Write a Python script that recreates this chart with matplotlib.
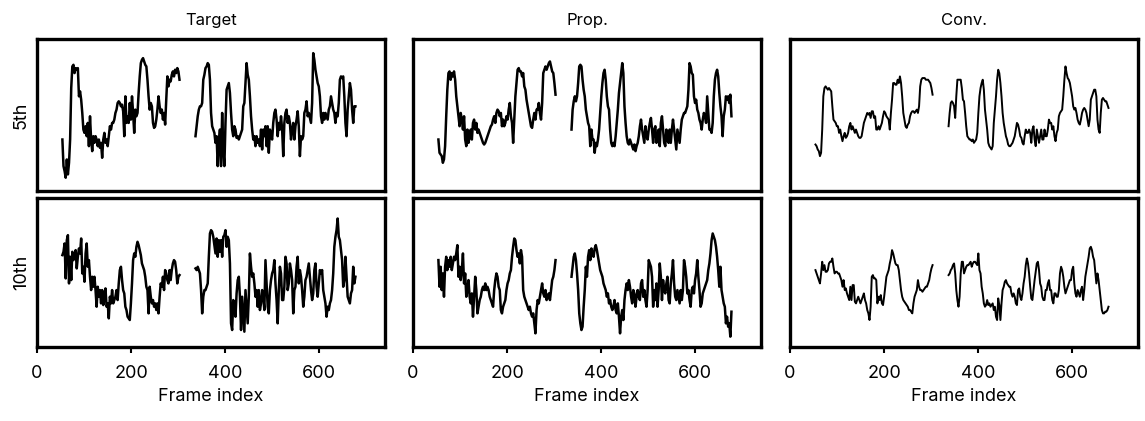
import numpy as np
import matplotlib
matplotlib.use("Agg")
import matplotlib.pyplot as plt

plt.rcParams["font.family"] = ["Inter", "Noto Sans CJK JP", "DejaVu Sans"]

# frame range of the two recorded segments (gap in between)
seg_a = (54, 303)
seg_b = (337, 677)

col_titles = ["Target", "Prop.", "Conv."]
row_labels = ["5th", "10th"]
xticks = [0, 200, 400, 600]

# ===== DATA (arbitrary units) =====
tgt5_a = [34, 18, 15, 11, 22, 13, 20, 34, 65, 78, 79, 74, 77, 76, 77, 60, 63, 58, 50, 40, 38, 42, 36, 44,
          30, 48, 34, 27, 36, 32, 36, 34, 30, 34, 29, 32, 23, 34, 38, 32, 34, 30, 36, 42, 40, 44, 44, 46,
          50, 52, 56, 57, 56, 54, 55, 51, 36, 60, 44, 48, 44, 56, 46, 60, 50, 38, 52, 48, 50, 62, 72, 80,
          82, 83, 81, 79, 78, 70, 60, 52, 56, 54, 44, 41, 42, 46, 52, 60, 54, 50, 52, 46, 50, 43, 58, 72,
          66, 70, 69, 73, 75, 72, 76, 74, 77, 75, 70]
tgt5_b = [36, 42, 48, 52, 54, 54, 56, 70, 73, 77, 78, 80, 79, 70, 50, 42, 40, 38, 32, 36, 18, 32, 40, 18,
          50, 28, 18, 44, 64, 66, 68, 62, 50, 40, 36, 42, 40, 35, 36, 34, 36, 38, 40, 54, 56, 68, 80, 73,
          70, 60, 48, 40, 34, 36, 30, 36, 32, 34, 30, 40, 28, 40, 36, 42, 30, 42, 26, 40, 36, 34, 44, 50,
          52, 46, 36, 44, 40, 48, 40, 24, 44, 50, 52, 44, 48, 44, 34, 40, 44, 34, 42, 46, 51, 42, 24, 36,
          34, 36, 50, 52, 57, 48, 50, 47, 44, 56, 86, 82, 76, 72, 68, 66, 60, 48, 44, 50, 46, 50, 48, 46,
          52, 54, 60, 56, 52, 50, 44, 50, 48, 56, 70, 72, 71, 72, 60, 44, 36, 52, 60, 68, 64, 52, 44, 54, 54]

tgt10_a = [61, 63, 68, 47, 70, 73, 44, 60, 46, 63, 58, 60, 64, 53, 60, 65, 62, 71, 50, 54, 45, 62, 68, 54,
           58, 48, 40, 48, 42, 48, 40, 30, 42, 36, 40, 32, 40, 31, 36, 41, 30, 32, 23, 36, 32, 40, 32, 34,
           36, 40, 34, 44, 52, 54, 46, 40, 38, 30, 28, 24, 23, 22, 32, 44, 58, 62, 60, 66, 69, 67, 64, 61,
           56, 54, 52, 48, 42, 40, 26, 42, 36, 32, 34, 30, 32, 28, 32, 26, 36, 44, 42, 48, 40, 52, 50, 46,
           44, 52, 46, 52, 56, 58, 57, 52, 44, 48, 49]
tgt10_b = [53, 52, 54, 52, 50, 40, 26, 36, 40, 40, 42, 44, 60, 74, 76, 75, 72, 67, 62, 71, 60, 70, 63, 70,
           60, 72, 73, 76, 66, 72, 70, 56, 20, 16, 34, 32, 24, 38, 46, 48, 36, 16, 36, 26, 15, 40, 30, 20,
           36, 62, 54, 48, 50, 44, 36, 40, 30, 40, 28, 32, 40, 36, 28, 58, 44, 30, 26, 40, 46, 50, 52, 58,
           44, 34, 20, 40, 54, 50, 34, 34, 42, 60, 56, 40, 44, 56, 52, 46, 26, 40, 42, 54, 60, 44, 52, 48,
           40, 30, 36, 46, 48, 52, 56, 48, 40, 34, 38, 52, 56, 42, 36, 44, 52, 50, 52, 40, 36, 32, 24, 30,
           28, 32, 34, 40, 50, 66, 72, 76, 83, 72, 70, 64, 58, 42, 46, 60, 48, 36, 34, 32, 38, 40, 54, 44, 48]

prop5_a = [34, 26, 25, 24, 20, 22, 30, 48, 64, 74, 75, 70, 74, 72, 75, 70, 60, 54, 48, 42, 50, 46, 40, 48,
           34, 30, 40, 32, 36, 40, 34, 44, 46, 40, 44, 38, 40, 38, 36, 34, 32, 31, 32, 34, 36, 38, 40, 42,
           43, 46, 48, 44, 50, 52, 51, 48, 50, 42, 46, 42, 44, 48, 46, 52, 56, 48, 44, 32, 46, 60, 68, 76,
           77, 75, 75, 72, 74, 66, 64, 58, 54, 50, 46, 42, 41, 46, 50, 46, 52, 52, 56, 50, 46, 56, 74, 76,
           78, 76, 78, 80, 81, 78, 75, 74, 68, 61]
prop5_b = [40, 52, 57, 60, 57, 60, 68, 78, 79, 78, 70, 64, 60, 52, 48, 44, 42, 30, 40, 34, 34, 26, 32, 30,
           34, 40, 50, 60, 68, 74, 76, 70, 60, 54, 52, 40, 32, 30, 32, 30, 36, 44, 52, 62, 68, 74, 80, 74,
           54, 44, 36, 32, 31, 34, 32, 30, 28, 31, 27, 30, 32, 36, 42, 46, 40, 36, 32, 42, 36, 34, 40, 44,
           47, 40, 32, 40, 42, 32, 34, 40, 30, 44, 48, 40, 32, 30, 40, 34, 32, 40, 32, 40, 46, 40, 34, 28,
           40, 36, 32, 40, 46, 48, 50, 50, 52, 54, 64, 80, 78, 74, 73, 60, 56, 58, 52, 50, 46, 44, 40, 46,
           50, 48, 44, 60, 50, 40, 40, 38, 44, 60, 70, 74, 76, 72, 62, 54, 48, 36, 48, 52, 60, 58, 60, 56,
           61, 48]

prop10_a = [58, 42, 54, 40, 50, 36, 54, 60, 52, 58, 54, 60, 52, 56, 60, 58, 62, 67, 48, 54, 46, 52, 62, 44,
            50, 36, 40, 46, 36, 32, 38, 24, 36, 48, 40, 26, 30, 34, 36, 40, 42, 40, 44, 40, 42, 40, 36, 34,
            32, 30, 40, 46, 50, 48, 42, 40, 28, 26, 30, 32, 34, 40, 44, 46, 50, 52, 60, 66, 71, 70, 64, 60,
            62, 56, 64, 60, 40, 36, 34, 32, 30, 28, 30, 26, 24, 26, 20, 14, 28, 34, 32, 36, 40, 44, 38, 36,
            40, 34, 36, 38, 34, 40, 46, 48, 52, 58]
prop10_b = [48, 54, 60, 62, 58, 50, 40, 26, 20, 16, 18, 30, 40, 54, 48, 60, 64, 58, 65, 62, 60, 65, 67, 64,
            60, 56, 52, 50, 48, 44, 42, 40, 36, 38, 32, 34, 30, 28, 30, 34, 28, 26, 32, 24, 14, 24, 28, 22,
            34, 40, 44, 40, 46, 42, 36, 32, 40, 38, 30, 36, 40, 36, 34, 44, 46, 36, 40, 34, 30, 40, 58, 56,
            54, 48, 30, 40, 34, 44, 30, 40, 56, 48, 34, 46, 40, 38, 44, 48, 34, 32, 44, 50, 58, 44, 36, 34,
            40, 36, 32, 40, 34, 40, 58, 54, 48, 38, 40, 34, 30, 40, 42, 38, 46, 50, 58, 48, 40, 30, 32, 38,
            40, 42, 44, 46, 52, 56, 62, 70, 74, 72, 70, 66, 60, 52, 42, 54, 40, 36, 32, 30, 20, 24, 18, 20,
            12, 27]

conv5_a = [31, 30, 28, 27, 24, 26, 40, 60, 65, 66, 65, 64, 65, 64, 63, 54, 46, 45, 44, 42, 42, 38, 40, 36,
           33, 36, 38, 35, 36, 38, 42, 44, 40, 42, 40, 38, 40, 38, 36, 35, 35, 36, 40, 44, 46, 48, 50, 49,
           50, 47, 51, 51, 47, 48, 40, 40, 42, 40, 42, 44, 48, 51, 50, 48, 47, 46, 40, 50, 58, 68, 68, 67,
           67, 70, 68, 72, 68, 60, 50, 46, 42, 41, 43, 44, 48, 50, 51, 51, 50, 51, 52, 50, 54, 66, 70, 71,
           71, 71, 70, 70, 70, 69, 68, 65, 61]
conv5_b = [42, 50, 56, 57, 56, 54, 47, 60, 70, 70, 70, 70, 65, 58, 57, 50, 42, 36, 35, 34, 34, 33, 34, 32,
           33, 34, 38, 50, 60, 65, 68, 70, 64, 52, 46, 40, 32, 30, 29, 28, 30, 44, 52, 60, 70, 76, 74, 68,
           60, 50, 44, 40, 36, 34, 31, 30, 30, 31, 32, 34, 36, 40, 44, 43, 40, 36, 35, 32, 31, 36, 40, 38,
           38, 40, 38, 32, 40, 42, 34, 30, 40, 36, 32, 36, 40, 34, 34, 40, 36, 36, 40, 46, 44, 44, 40, 42,
           36, 33, 38, 40, 48, 50, 51, 52, 60, 70, 78, 74, 71, 70, 68, 64, 60, 54, 52, 53, 50, 46, 44, 43,
           46, 50, 52, 53, 52, 50, 46, 42, 46, 58, 60, 62, 64, 64, 60, 46, 40, 38, 50, 58, 59, 58, 57, 57,
           55, 53]

conv10_a = [52, 50, 48, 46, 44, 50, 57, 52, 55, 51, 51, 52, 56, 57, 57, 59, 54, 50, 51, 51, 50, 50, 48, 46,
            42, 46, 40, 41, 38, 36, 34, 42, 34, 43, 43, 33, 32, 34, 36, 34, 32, 34, 36, 38, 34, 32, 28, 26,
            22, 30, 48, 49, 47, 47, 46, 32, 36, 34, 37, 32, 31, 36, 42, 48, 50, 52, 56, 59, 64, 62, 59, 56,
            55, 55, 52, 46, 40, 36, 34, 33, 32, 31, 30, 28, 28, 27, 26, 32, 36, 38, 40, 46, 42, 40, 40, 39,
            40, 41, 42, 42, 44, 46, 50, 53, 55]
conv10_b = [49, 50, 52, 53, 55, 56, 50, 40, 34, 30, 36, 50, 57, 57, 50, 52, 54, 55, 55, 56, 57, 54, 56, 57,
            57, 56, 55, 62, 52, 50, 42, 38, 32, 30, 31, 34, 31, 32, 30, 31, 32, 28, 30, 24, 22, 35, 31, 22,
            32, 40, 42, 45, 46, 44, 43, 42, 42, 38, 36, 38, 36, 32, 31, 40, 41, 36, 34, 38, 44, 48, 55, 59,
            56, 50, 42, 35, 34, 40, 46, 51, 56, 57, 52, 44, 42, 36, 34, 34, 40, 40, 44, 46, 40, 40, 34, 32,
            38, 38, 36, 36, 40, 50, 54, 52, 48, 42, 38, 40, 42, 44, 46, 46, 52, 54, 44, 38, 36, 40, 38, 36,
            40, 42, 34, 40, 48, 52, 56, 60, 65, 66, 64, 60, 58, 51, 44, 50, 46, 40, 34, 28, 26, 26, 27, 27,
            28, 30]

series = [
    [(tgt5_a, tgt5_b), (prop5_a, prop5_b), (conv5_a, conv5_b)],
    [(tgt10_a, tgt10_b), (prop10_a, prop10_b), (conv10_a, conv10_b)],
]
row_ylim = [(3.0, 94.5), (5.8, 95.6)]
trace_lw = [1.8, 1.8, 1.4]


def main():
    fig = plt.figure(figsize=(11.45, 4.21), dpi=100)

    lefts = [0.0323, 0.3607, 0.690]
    width = 0.304
    bottoms = [0.5463, 0.1758]
    heights = [0.361, 0.355]

    for r in range(2):
        for c in range(3):
            ax = fig.add_axes([lefts[c], bottoms[r], width, heights[r]])
            a, b = series[r][c]
            xa = np.linspace(seg_a[0], seg_a[1], len(a))
            xb = np.linspace(seg_b[0], seg_b[1], len(b))
            ax.plot(xa, a, color="black", lw=trace_lw[c])
            ax.plot(xb, b, color="black", lw=trace_lw[c])

            ax.set_xlim(0, 740)
            ax.set_ylim(*row_ylim[r])
            ax.set_yticks([])
            for s in ax.spines.values():
                s.set_linewidth(2.4)

            if r == 0:
                ax.set_xticks([])
                ax.set_title(col_titles[c], fontsize=12, pad=10)
            else:
                ax.set_xticks(xticks)
                ax.tick_params(axis="x", length=4, width=1.5, labelsize=13, pad=9)
                ax.set_xlabel("Frame index", fontsize=13, labelpad=4)

            if c == 0:
                ax.set_ylabel(row_labels[r], fontsize=13, labelpad=5)

    fig.savefig("out.png", dpi=100)


if __name__ == "__main__":
    main()
